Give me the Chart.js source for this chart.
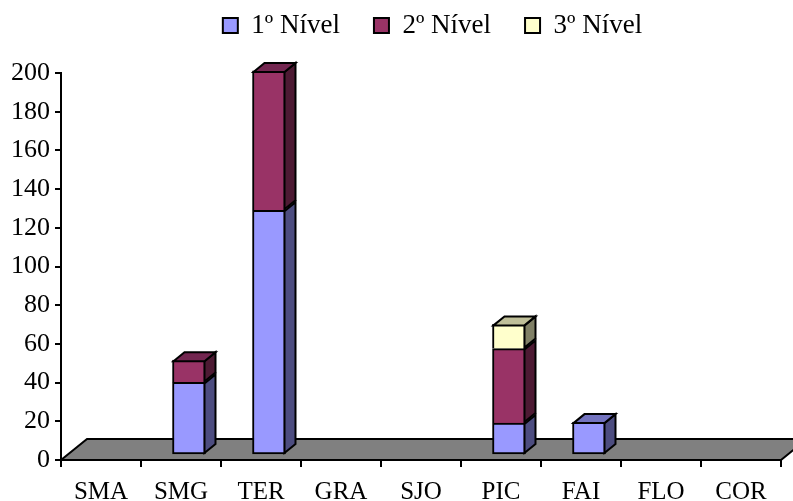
<!DOCTYPE html>
<html>
<head>
<meta charset="utf-8">
<style>
  html, body { margin: 0; padding: 0; background: #fff; }
  #wrap { width: 793px; height: 501px; }
</style>
<script src="https://cdn.jsdelivr.net/npm/chart.js@4"></script>
</head>
<body>
<div id="wrap"><canvas id="grafico"></canvas></div>
<script>
const categorias = ['SMA', 'SMG', 'TER', 'GRA', 'SJO', 'PIC', 'FAI', 'FLO', 'COR'];
const nivel1 = [0, 37.5, 126.5, 0, 0, 16.5, 17, 0, 0];
const nivel2 = [0, 11.5, 72, 0, 0, 38.5, 0, 0, 0];
const nivel3 = [0, 0, 0, 0, 0, 12.5, 0, 0, 0];

const FONTE = '"Liberation Serif", "Times New Roman", serif';

// cores: frente, lado e topo de cada nivel
const cores = [
  { frente: '#9999ff', lado: '#4d4d80', topo: '#7373bf' },
  { frente: '#993366', lado: '#4d1a33', topo: '#732650' },
  { frente: '#ffffcc', lado: '#808066', topo: '#bfbf99' }
];

// deslocamentos do falso 3D
const CHAO_X = 26, CHAO_Y = 21;
const BARRA_X = 8, BARRA_Y = 5;
const FUNDO_X = 11, FUNDO_Y = 9;
const ESPACO_LEGENDA = 24;

function poligono(ctx, pts, cor) {
  ctx.beginPath();
  pts.forEach((p, i) => i ? ctx.lineTo(p[0], p[1]) : ctx.moveTo(p[0], p[1]));
  ctx.closePath();
  ctx.fillStyle = cor;
  ctx.fill();
  ctx.lineWidth = 2;
  ctx.strokeStyle = '#000';
  ctx.lineJoin = 'miter';
  ctx.stroke();
}

const falso3d = {
  id: 'falso3d',
  beforeLayout(chart) {
    // mais espaco entre a legenda e o grafico
    const legenda = chart.legend;
    if (legenda.fitOriginal) return;
    legenda.fitOriginal = legenda.fit;
    legenda.fit = function () {
      this.fitOriginal();
      this.height += ESPACO_LEGENDA;
    };
  },
  afterLayout(chart) {
    // legenda fica mais a direita que o centro do canvas
    chart.legend.left += 42;
    chart.legend.right += 42;
  },
  beforeDatasetsDraw(chart) {
    const { ctx, chartArea: a } = chart;
    // chao cinza
    poligono(ctx, [
      [a.left, a.bottom],
      [a.left + CHAO_X, a.bottom - CHAO_Y],
      [a.right + CHAO_X, a.bottom - CHAO_Y],
      [a.right, a.bottom]
    ], '#808080');
    ctx.save();
    ctx.translate(BARRA_X, -BARRA_Y);
  },
  afterDatasetsDraw(chart) {
    const { ctx } = chart;
    categorias.forEach((c, i) => {
      let ultima = null;
      chart.data.datasets.forEach((ds, d) => {
        if (!ds.data[i]) return;
        const b = chart.getDatasetMeta(d).data[i];
        const dir = b.x + b.width / 2 - 1;
        poligono(ctx, [
          [dir, b.y + 1],
          [dir + FUNDO_X, b.y + 1 - FUNDO_Y],
          [dir + FUNDO_X, b.base - 1 - FUNDO_Y],
          [dir, b.base - 1]
        ], cores[d].lado);
        ultima = { b, d };
      });
      if (ultima) {
        const { b, d } = ultima;
        const esq = b.x - b.width / 2 + 1, dir = b.x + b.width / 2 - 1;
        poligono(ctx, [
          [esq, b.y + 1],
          [esq + FUNDO_X, b.y + 1 - FUNDO_Y],
          [dir + FUNDO_X, b.y + 1 - FUNDO_Y],
          [dir, b.y + 1]
        ], cores[d].topo);
      }
    });
    ctx.restore();
  }
};

// so o primeiro segmento da pilha tem borda embaixo, senao a linha fica dupla
function bordaBarra(c) {
  if (!c.raw) return 0;
  const temAbaixo = c.chart.data.datasets.slice(0, c.datasetIndex).some(ds => ds.data[c.dataIndex]);
  return { top: 2, left: 2, right: 2, bottom: temAbaixo ? 0 : 2 };
}

function serie(label, data, cor) {
  return {
    label,
    data,
    backgroundColor: c => (c.raw ? cor.frente : 'transparent'),
    borderColor: '#000',
    borderWidth: bordaBarra,
    borderSkipped: false,
    barThickness: 33
  };
}

new Chart(document.getElementById('grafico'), {
  type: 'bar',
  data: {
    labels: categorias,
    datasets: [
      serie('1º Nível', nivel1, cores[0]),
      serie('2º Nível', nivel2, cores[1]),
      serie('3º Nível', nivel3, cores[2])
    ]
  },
  plugins: [falso3d],
  options: {
    responsive: true,
    maintainAspectRatio: false,
    animation: false,
    layout: { padding: { top: -22, right: 12, bottom: 0, left: 0 } },
    plugins: {
      tooltip: { enabled: false },
      legend: {
        position: 'top',
        labels: {
          color: '#000',
          font: { family: FONTE, size: 27 },
          boxWidth: 15,
          boxHeight: 15,
          padding: 34,
          generateLabels(chart) {
            return chart.data.datasets.map((ds, i) => ({
              text: ds.label,
              fillStyle: cores[i].frente,
              strokeStyle: '#000',
              lineWidth: 2,
              datasetIndex: i
            }));
          }
        }
      }
    },
    scales: {
      x: {
        stacked: true,
        afterFit(s) { s.height = 41; },
        grid: { drawOnChartArea: false, drawTicks: true, tickLength: 7, color: '#000', lineWidth: 2 },
        border: { color: '#000', width: 2 },
        ticks: { color: '#000', font: { family: FONTE, size: 25 }, maxRotation: 0, autoSkip: false, padding: 10 }
      },
      y: {
        stacked: true,
        min: 0,
        max: 200,
        afterFit(s) { s.width = 61; },
        grid: { drawOnChartArea: false, drawTicks: true, tickLength: 6, color: '#000', lineWidth: 2 },
        border: { color: '#000', width: 2 },
        ticks: { stepSize: 20, color: '#000', font: { family: FONTE, size: 26 }, padding: 5 }
      }
    }
  }
});
</script>
</body>
</html>
